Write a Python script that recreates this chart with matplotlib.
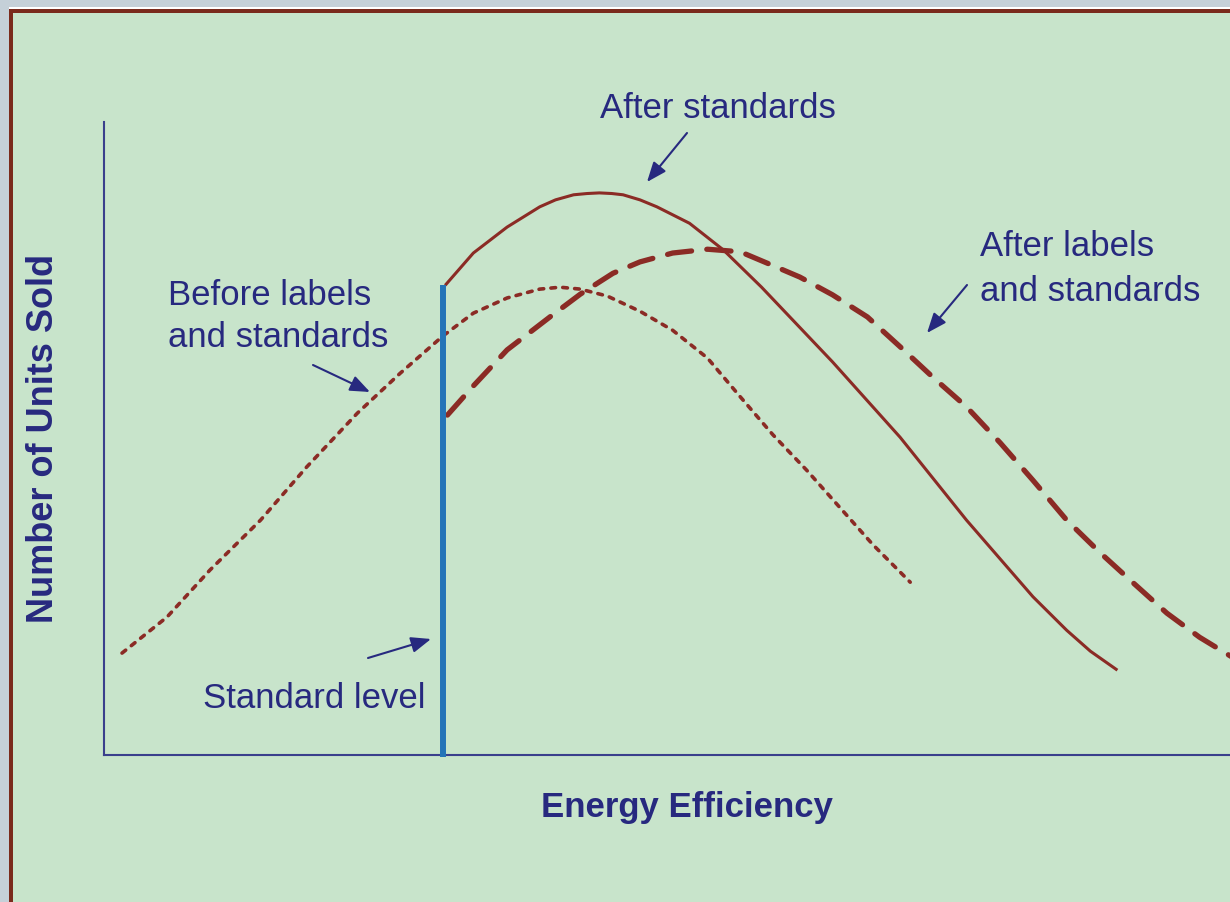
import matplotlib.pyplot as plt
from matplotlib.patches import Rectangle

W, H = 1230, 902

# Kurvenwerte (x: Energieeffizienz, y: verkaufte Einheiten, relative Skala 0-100)
before_x = [1.6, 5.6, 9.4, 13.9, 18.0, 22.5, 26.3, 30.1, 32.8, 35.8, 38.7, 40.5,
            42.3, 44.7, 47.6, 50.5, 53.6, 56.5, 59.4, 62.4, 65.4, 68.3, 71.6]
before_y = [16.1, 21.8, 29.2, 37.1, 45.5, 54.0, 60.3, 66.2, 69.8, 72.2, 73.6, 73.9,
            73.6, 72.5, 70.1, 67.1, 62.7, 56.6, 50.6, 45.0, 39.0, 33.2, 27.3]

after_std_x = [30.3, 32.8, 35.8, 38.7, 40.1, 41.7, 42.9, 44.0, 45.1, 46.1, 47.6, 49.1,
               52.0, 55.0, 58.4, 64.7, 70.7, 76.6, 82.5, 85.5, 87.6, 90.0]
after_std_y = [74.2, 79.3, 83.4, 86.6, 87.7, 88.5, 88.7, 88.8, 88.7, 88.5, 87.7, 86.6,
               84.0, 79.8, 73.9, 62.1, 50.2, 37.1, 25.0, 19.7, 16.4, 13.4]

after_both_x = [30.5, 32.8, 35.8, 39.6, 42.3, 45.2, 47.6, 50.5, 53.6, 56.5, 58.9, 61.8,
                64.7, 67.8, 70.7, 73.6, 76.6, 79.6, 82.5, 85.5, 88.5, 91.4, 94.4, 97.3, 100.9]
after_both_y = [53.7, 58.3, 64.0, 69.2, 72.8, 76.1, 77.9, 79.3, 79.9, 79.5, 77.7, 75.5,
                72.7, 69.2, 64.5, 59.7, 55.0, 49.3, 43.4, 37.1, 31.9, 27.2, 22.4, 18.6, 14.7]

standard_level = 30.1

navy = '#27297f'
red = '#8b2b25'
blue = '#2474b8'

plt.rcParams['font.family'] = ['Liberation Sans', 'DejaVu Sans']


def fp(x, y):
    # Pixel (oben links) -> figure fraction
    return x / W, 1 - y / H


fig = plt.figure(figsize=(W / 100, H / 100), dpi=100, facecolor='#c5d0d8')

# Rahmen + gruener Hintergrund (hinter den Achsen)
for xy, w, h, c in [(fp(9, 9), 1, 2 / H, 'white'),
                    ((9 / W, 0), 1, 1 - 9 / H, '#7a2a1c'),
                    ((13 / W, 0), 1, 1 - 13 / H, '#c8e4cb')]:
    fig.add_artist(Rectangle(xy, w, h, transform=fig.transFigure, color=c, lw=0, zorder=-5))

ax = fig.add_axes([104 / W, 1 - 755 / H, (W - 104) / W, (755 - 122) / H])
ax.set_facecolor('none')
ax.set_xlim(0, 100)
ax.set_ylim(0, 100)
ax.set_xticks([])
ax.set_yticks([])
for s in ['top', 'right']:
    ax.spines[s].set_visible(False)
for s in ['left', 'bottom']:
    ax.spines[s].set_color('#3a3f8c')
    ax.spines[s].set_linewidth(1.5)

ax.plot(before_x, before_y, color=red, lw=2.6, linestyle=(0, (1.3, 2.0)),
        dash_capstyle='round')
ax.plot(after_std_x, after_std_y, color=red, lw=2.2, solid_capstyle='butt',
        solid_joinstyle='round')
ax.plot(after_both_x, after_both_y, color=red, lw=3.8, linestyle=(0, (4.6, 2.9)),
        dash_capstyle='round')
ax.vlines(standard_level, -0.3, after_std_y[0], color=blue, lw=4.3, zorder=3, clip_on=False)

# Beschriftungen
fs = 25
fig.text(*fp(600, 118), 'After standards', fontsize=fs, color=navy, va='baseline')
fig.text(*fp(980, 301), 'After labels\nand standards', fontsize=fs, color=navy,
         va='baseline', linespacing=1.45)
fig.text(*fp(168, 347), 'Before labels\nand standards', fontsize=fs, color=navy,
         va='baseline', linespacing=1.34)
fig.text(*fp(203, 708), 'Standard level', fontsize=fs, color=navy, va='baseline')
fig.text(*fp(687, 817), 'Energy Efficiency', fontsize=fs, color=navy, va='baseline',
         ha='center', fontweight='bold')
fig.text(*fp(53, 438), 'Number of Units Sold', fontsize=26, color=navy, va='baseline',
         ha='center', rotation=90, rotation_mode='anchor', fontweight='bold')

arrows = [((687, 133), (647, 182)),
          ((967, 285), (927, 333)),
          ((313, 365), (370, 392)),
          ((368, 658), (431, 639))]
for tail, tip in arrows:
    ax.annotate('', xy=fp(*tip), xycoords='figure fraction',
                xytext=fp(*tail), textcoords='figure fraction',
                arrowprops=dict(arrowstyle='-|>,head_length=0.6,head_width=0.24',
                                color=navy, lw=1.5, mutation_scale=20,
                                shrinkA=0, shrinkB=0))

fig.savefig('out.png', dpi=100, facecolor=fig.get_facecolor())
